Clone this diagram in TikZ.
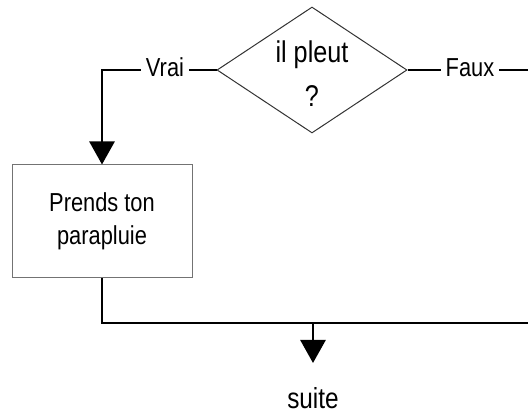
\documentclass[tikz,border=0pt]{standalone}
\usepackage{fontspec}
\setmainfont{Liberation Sans}[FakeStretch=0.84]
\usetikzlibrary{shapes.geometric,arrows.meta}

\tikzset{
  flow/.style={line width=2.7pt, line join=miter},
  tip/.style={-{Triangle[width=25pt,length=23pt]}},
  decision/.style={draw=black!80, line width=1pt, shape=diamond, inner sep=0pt,
    minimum width=190pt, minimum height=126pt},
  action/.style={draw=black!55, line width=1pt, fill=white, align=center,
    minimum width=180pt, minimum height=113pt, inner sep=0pt,
    font=\fontsize{26}{33}\selectfont},
  bigtext/.style={align=center, inner sep=0pt, font=\fontsize{29}{44}\selectfont},
  lbl/.style={fill=white, inner xsep=5pt, inner ysep=0pt, text height=14pt,
    text depth=0pt, font=\fontsize{26}{30}\selectfont}
}

\begin{document}
\begin{tikzpicture}[x=1pt, y=-1pt]
  \useasboundingbox (0,0) rectangle (528,414);

  % decision
  \node[decision] (q) at (312,70) {};
  \node[bigtext, font=\fontsize{30}{44}\selectfont] (qtext) at (312,74) {il pleut\\?};

  % branch labels
  \node[lbl] (vrai) at (165,70) {Vrai};
  \node[lbl] (faux) at (470,70) {Faux};
  \coordinate (rt) at (528,70);

  % action box
  \node[action] (box) at (102,221.5) {Prends ton\\parapluie};

  % merge line and exit
  \coordinate (rb) at (528,323);
  \coordinate (j) at (313,323);
  \coordinate (tipend) at (313,363);
  \node[bigtext, anchor=base] (suite) at (313,408) {suite};

  % connectors
  \draw[flow] (q.west) -- (vrai.east);
  \draw[flow, tip] (vrai.west) -| (box.north);
  \draw[flow] (q.east) -- (faux.west);
  \draw[flow] (faux.east) -- (rt);
  \draw[flow] (box.south) |- (rb);
  \draw[flow, tip] (j) -- (tipend);
\end{tikzpicture}
\end{document}
